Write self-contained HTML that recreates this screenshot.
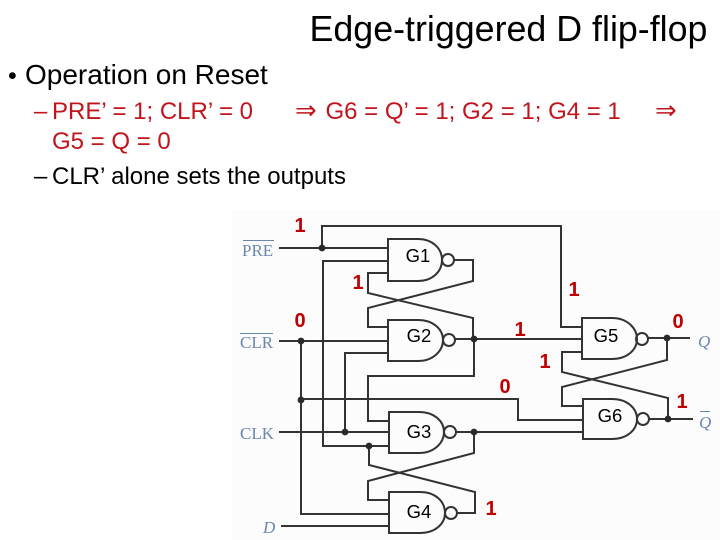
<!DOCTYPE html>
<html>
<head>
<meta charset="utf-8">
<style>
html,body{margin:0;padding:0;background:#fff;}
svg{display:block;}
.t{font-family:"Liberation Sans",sans-serif;fill:#000;}
.m{font-family:"Liberation Sans",sans-serif;fill:#c2141c;font-size:24px;}
.a{font-family:"DejaVu Sans",sans-serif;fill:#c2141c;font-size:26px;}
.r{font-family:"Liberation Sans",sans-serif;font-weight:bold;font-size:20px;fill:#c00000;text-anchor:middle;}
.g{font-family:"Liberation Sans",sans-serif;font-size:18.5px;fill:#000;text-anchor:middle;}
.s{font-family:"Liberation Serif",serif;font-size:17px;fill:#6b86ad;}
.w{fill:none;stroke:#333;stroke-width:2;}
.n{fill:none;stroke:#333;stroke-width:2;}
.d{fill:#2a2a2a;}
</style>
</head>
<body>
<svg width="720" height="540" viewBox="0 0 720 540" xmlns="http://www.w3.org/2000/svg">
<rect width="720" height="540" fill="#fff"/>
<rect x="232" y="210" width="488" height="330" fill="#fcfcfc"/>

<text class="t" x="309.500" y="41" font-size="35.800">Edge-triggered D flip-flop</text>
<text class="t" x="8" y="84" font-size="25">•</text>
<text class="t" x="25" y="84" font-size="28">Operation on Reset</text>
<text class="m" x="34" y="119">–</text>
<text class="m" x="52" y="119">PRE’ = 1; CLR’ = 0</text>
<text class="a" x="295" y="119">⇒</text>
<text class="m" x="325.500" y="119">G6 = Q’ = 1; G2 = 1; G4 = 1</text>
<text class="a" x="655" y="119">⇒</text>
<text class="m" x="52" y="149">G5 = Q = 0</text>
<text class="t" x="34" y="184" font-size="24">–</text>
<text class="t" x="52" y="184" font-size="24">CLR’ alone sets the outputs</text>

<!-- wires -->
<path class="w" d="M322 248V226H561V327H582"/>
<path class="w" d="M279 248H388"/>
<path class="w" d="M388 261H323V446H388"/>
<path class="w" d="M454 260H473V281L368 308V327H388"/>
<path class="w" d="M388 273H368V293L473 318V339"/>
<path class="w" d="M455 339H582"/>
<path class="w" d="M279 341H388"/>
<path class="w" d="M301 341V514H389"/>
<path class="w" d="M301 399H518V420H582"/>
<path class="w" d="M388 353H345V432"/>
<path class="w" d="M279 432H388"/>
<path class="w" d="M474 339V376H368V421H388"/>
<path class="w" d="M456 432H582"/>
<path class="w" d="M474 432V453L368 481V500H389"/>
<path class="w" d="M369 446V465L475 492V513H457"/>
<path class="w" d="M281 526H389"/>
<path class="w" d="M648 338H690"/>
<path class="w" d="M667 338V360L562 387V406H583"/>
<path class="w" d="M582 352H562V372L668 398V419"/>
<path class="w" d="M649 419H693"/>

<!-- gates -->
<path class="n" d="M388 239H418C432 239 442 248 442 260C442 272 432 281 418 281H388Z"/>
<circle class="n" cx="448" cy="260" r="6"/>
<path class="n" d="M388 320H418C433 320 443 329 443 340C443 351 433 361 418 361H388Z"/>
<circle class="n" cx="449" cy="340" r="6"/>
<path class="n" d="M389 412H419C434 412 444 421 444 432C444 443 434 453 419 453H389Z"/>
<circle class="n" cx="450" cy="432" r="6"/>
<path class="n" d="M389 492H420C435 492 445 501 445 513C445 524 435 533 420 533H389Z"/>
<circle class="n" cx="451" cy="513" r="6"/>
<path class="n" d="M582 318H612C627 318 637 328 637 339C637 350 627 359 612 359H582Z"/>
<circle class="n" cx="642" cy="339" r="6"/>
<path class="n" d="M583 399H612C627 399 637 408 637 419C637 430 627 439 612 439H583Z"/>
<circle class="n" cx="643" cy="419" r="6"/>

<!-- junctions -->
<g class="d">
<circle cx="322" cy="248" r="3.400"/>
<circle cx="301" cy="341" r="3.400"/>
<circle cx="474" cy="339" r="3.400"/>
<circle cx="301" cy="400" r="3.400"/>
<circle cx="345" cy="432" r="3.400"/>
<circle cx="369" cy="446" r="3.400"/>
<circle cx="474" cy="432" r="3.400"/>
<circle cx="667" cy="338" r="3.400"/>
<circle cx="668" cy="419" r="3.400"/>
</g>

<!-- signal names -->
<text class="s" x="242" y="256">PRE</text>
<path d="M243 240.500H274" stroke="#6b86ad" stroke-width="1" fill="none"/>
<text class="s" x="240" y="348">CLR</text>
<path d="M240 333.500H273" stroke="#6b86ad" stroke-width="1" fill="none"/>
<text class="s" x="240" y="439">CLK</text>
<text class="s" x="263" y="533" font-style="italic">D</text>
<text class="s" x="698" y="347" font-style="italic">Q</text>
<text class="s" x="699" y="428" font-style="italic">Q</text>
<path d="M700 411.500H710" stroke="#6b86ad" stroke-width="1" fill="none"/>

<!-- gate names -->
<text class="g" x="418" y="262">G1</text>
<text class="g" x="419" y="342">G2</text>
<text class="g" x="419" y="438">G3</text>
<text class="g" x="419" y="518">G4</text>
<text class="g" x="606" y="342">G5</text>
<text class="g" x="610" y="422">G6</text>

<!-- values -->
<text class="r" x="300" y="232">1</text>
<text class="r" x="358" y="289">1</text>
<text class="r" x="300" y="327">0</text>
<text class="r" x="574" y="296">1</text>
<text class="r" x="520" y="336">1</text>
<text class="r" x="678" y="328">0</text>
<text class="r" x="545" y="368">1</text>
<text class="r" x="505" y="393">0</text>
<text class="r" x="682" y="408">1</text>
<text class="r" x="491" y="515">1</text>
</svg>
</body>
</html>
